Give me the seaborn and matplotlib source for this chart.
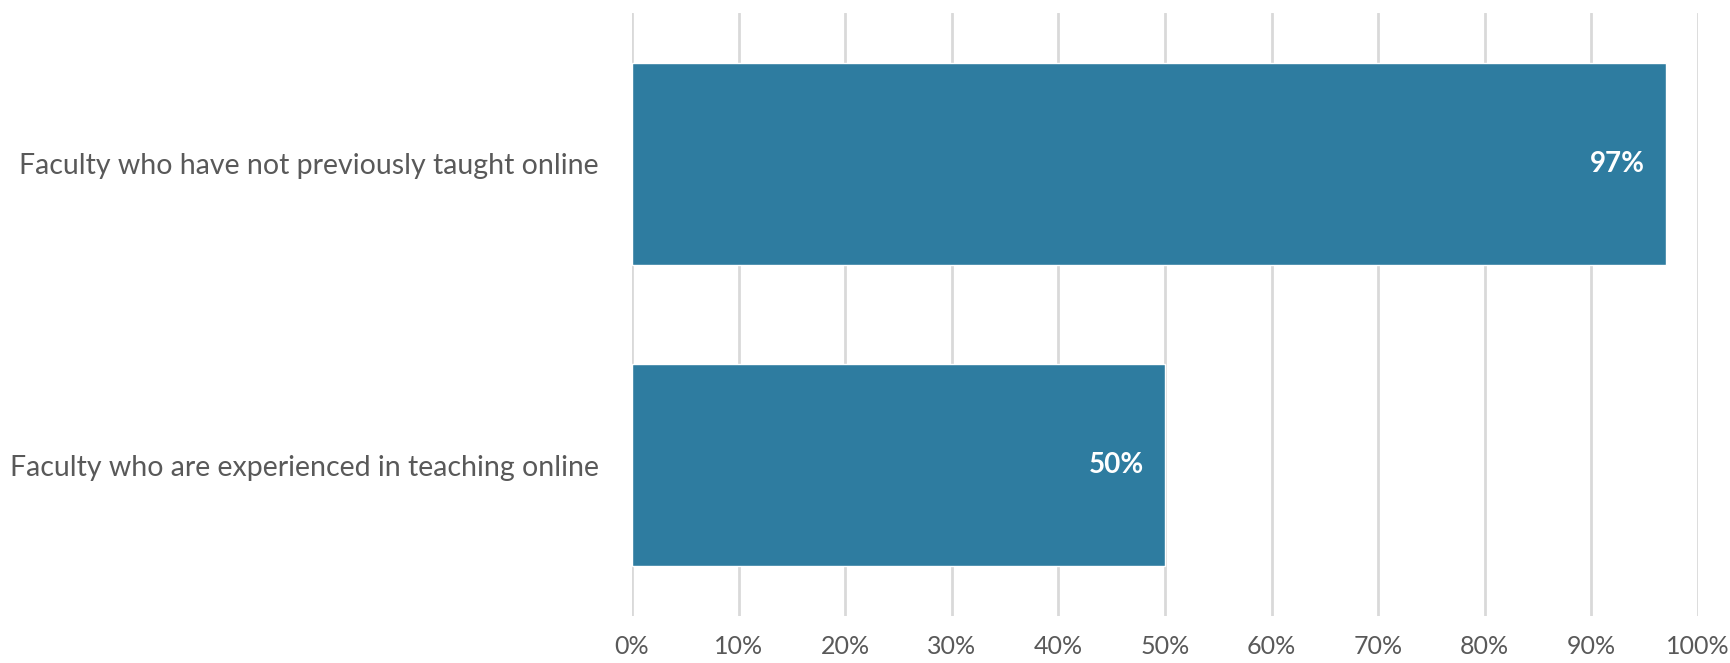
import matplotlib
matplotlib.use("Agg")
import matplotlib.pyplot as plt
import seaborn as sns
import pandas as pd
from matplotlib.ticker import FuncFormatter

categories = ["Faculty who have not previously taught online",
              "Faculty who are experienced in teaching online"]
values = [0.97, 0.50]
value_labels = ["97%", "50%"]
tick_values = [0, 0.1, 0.2, 0.3, 0.4, 0.5, 0.6, 0.7, 0.8, 0.9, 1.0]

sns.set_theme(style="white")
plt.rcParams['font.family'] = ['Lato', 'DejaVu Sans']

df = pd.DataFrame({"category": categories, "value": values})

fig = plt.figure(figsize=(17.3, 6.63), dpi=100)
ax = fig.add_axes([632/1730, 1-616/663, (1698-632)/1730, (616-13)/663])

sns.barplot(data=df, y="category", x="value", orient="h", color="#2E7CA0",
            saturation=1, width=0.67, ax=ax, zorder=3)

ax.set_xlim(0, 1.0)
ax.set_ylim(1.5, -0.5)
ax.set_xticks(tick_values)
ax.xaxis.set_major_formatter(FuncFormatter(lambda v, p: f"{v*100:.0f}%"))
ax.grid(axis="x", color="#D9D9D9", linewidth=2, zorder=0)
ax.grid(axis="y", visible=False)
for s in ax.spines.values():
    s.set_visible(False)
ax.set_xlabel("")
ax.set_ylabel("")
ax.tick_params(axis="x", length=0, pad=14, labelsize=18, labelcolor="#595959")
ax.tick_params(axis="y", length=0, pad=24, labelsize=20.5, labelcolor="#595959")

for i, (v, lab) in enumerate(zip(values, value_labels)):
    ax.annotate(lab, xy=(v, i), xytext=(-15, 0), textcoords="offset points",
                ha="right", va="center", color="white", fontsize=20,
                fontweight="bold", zorder=5)

fig.savefig("out.png", dpi=100)
